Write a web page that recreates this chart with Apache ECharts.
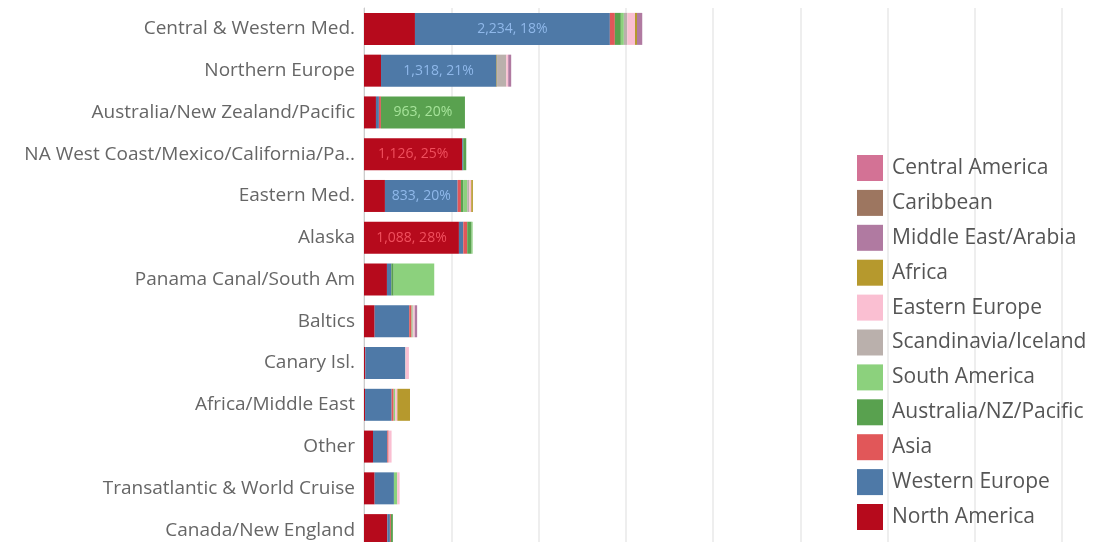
<!DOCTYPE html>
<html>
<head>
<meta charset="utf-8">
<script src="https://cdn.jsdelivr.net/npm/echarts@6/dist/echarts.min.js"></script>
<style>
  html, body { margin: 0; padding: 0; background: #fff; }
  #chart { width: 1100px; height: 542px; }
</style>
</head>
<body>
<div id="chart"></div>
<script>
// 目的地（由上而下）
const categories = [
  'Central & Western Med.', 'Northern Europe', 'Australia/New Zealand/Pacific',
  'NA West Coast/Mexico/California/Pa..', 'Eastern Med.', 'Alaska',
  'Panama Canal/South Am', 'Baltics', 'Canary Isl.', 'Africa/Middle East',
  'Other', 'Transatlantic & World Cruise', 'Canada/New England'
];

// 堆疊順序（由左至右）
const regions = [
  'North America', 'Western Europe', 'Asia', 'Australia/NZ/Pacific', 'South America',
  'Scandinavia/Iceland', 'Eastern Europe', 'Africa', 'Middle East/Arabia',
  'Caribbean', 'Central America'
];
const regionColors = [
  '#b60a1c', '#4e79a7', '#e15759', '#59a14f', '#8cd17d',
  '#bab0ac', '#fabfd2', '#b6992d', '#b07aa1', '#9d7660', '#d37295'
];
const labelColors = {
  'North America': '#f0505e',
  'Western Europe': '#8fb8ea',
  'Australia/NZ/Pacific': '#a6e39a'
};

const northAmerica = [584, 195, 137, 1126, 240, 1088, 263, 122, 15, 12, 103, 122, 267];
const westernEurope = [2234, 1318, 34, 11, 833, 50, 50, 396, 457, 305, 164, 221, 30];
const asia = [57, 6, 23, 0, 38, 45, 0, 27, 0, 23, 15, 0, 11];
const australiaNZ = [69, 6, 963, 35, 30, 50, 27, 0, 0, 0, 0, 0, 23];
const southAmerica = [34, 0, 0, 0, 42, 12, 465, 11, 0, 19, 0, 38, 0];
const scandinavia = [40, 105, 0, 0, 23, 0, 0, 11, 5, 0, 0, 0, 0];
const easternEurope = [88, 23, 0, 0, 23, 0, 0, 15, 38, 23, 34, 27, 0];
const africa = [23, 0, 0, 0, 19, 0, 0, 0, 0, 145, 0, 0, 0];
const middleEast = [60, 34, 0, 0, 0, 0, 0, 27, 0, 0, 0, 0, 0];
const caribbean = [0, 0, 0, 0, 0, 0, 0, 0, 0, 0, 0, 0, 0];
const centralAmerica = [0, 0, 0, 0, 0, 0, 0, 0, 0, 0, 0, 0, 0];

// 每列標籤：顯示在哪個區段、文字
const labelRegion = ['Western Europe', 'Western Europe', 'Australia/NZ/Pacific', 'North America',
  'Western Europe', 'North America', '', '', '', '', '', '', ''];
const labelText = ['2,234, 18%', '1,318, 21%', '963, 20%', '1,126, 25%', '833, 20%', '1,088, 28%',
  '', '', '', '', '', '', ''];

const seriesValues = [northAmerica, westernEurope, asia, australiaNZ, southAmerica, scandinavia,
  easternEurope, africa, middleEast, caribbean, centralAmerica];

const FONT = '"Open Sans", sans-serif';

const chart = echarts.init(document.getElementById('chart'), null, { renderer: 'canvas' });

const series = regions.map((name, i) => ({
  name: name,
  type: 'bar',
  stack: 'total',
  barWidth: 32,
  itemStyle: { color: regionColors[i] },
  emphasis: { disabled: true },
  data: seriesValues[i].map((v, r) => {
    const item = { value: v };
    if (labelRegion[r] === name) {
      item.label = {
        show: true,
        position: 'inside',
        formatter: labelText[r],
        color: labelColors[name],
        fontSize: 14,
        fontFamily: FONT
      };
    }
    return item;
  })
}));

chart.setOption({
  animation: false,
  grid: { left: 364, top: 8, width: 698, height: 543, outerBoundsMode: 'none' },
  legend: {
    orient: 'vertical',
    left: 852,
    top: 150,
    icon: 'rect',
    itemWidth: 26,
    itemHeight: 26,
    itemGap: 8.9,
    selectedMode: false,
    data: regions.slice().reverse(),
    textStyle: { fontSize: 21, color: '#555', fontFamily: FONT, padding: [0, 0, 0, 4] }
  },
  xAxis: {
    type: 'value',
    min: 0,
    max: 8000,
    interval: 1000,
    axisLabel: { show: false },
    axisTick: { show: false },
    axisLine: { show: false },
    splitLine: { lineStyle: { color: '#eeeeee', width: 2 } }
  },
  yAxis: {
    type: 'category',
    inverse: true,
    data: categories,
    axisTick: { show: false },
    axisLine: { lineStyle: { color: '#cccccc' } },
    axisLabel: { fontSize: 19, color: '#666', fontFamily: FONT, margin: 9 }
  },
  series: series
});
</script>
</body>
</html>
